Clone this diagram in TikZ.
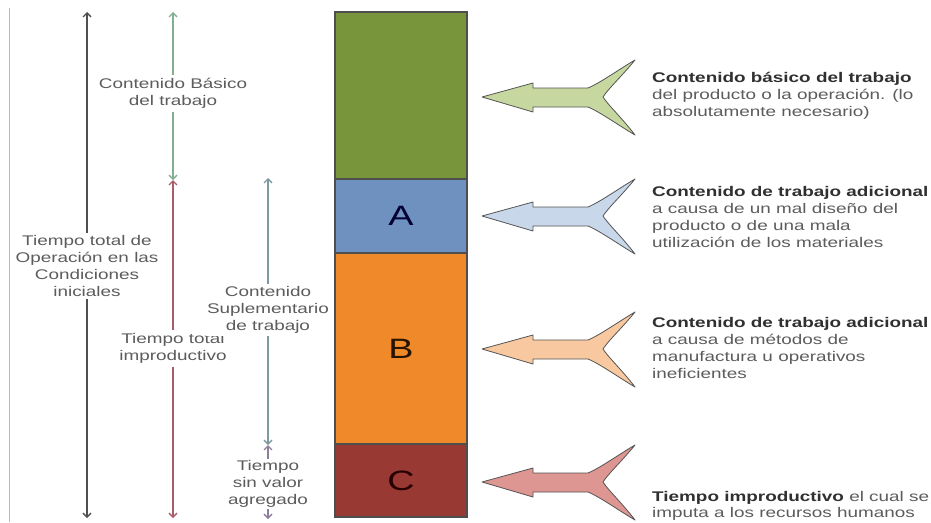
\documentclass[tikz,border=0pt]{standalone}
\usepackage{fontspec}
\setmainfont{Liberation Sans}
\newfontfamily\widesans[FakeStretch=1.35]{Liberation Sans}
\usetikzlibrary{arrows.meta}

\definecolor{gbox}{HTML}{78953C}
\definecolor{abox}{HTML}{6F91C0}
\definecolor{bbox}{HTML}{EF892A}
\definecolor{cbox}{HTML}{983A33}
\definecolor{garrow}{HTML}{C6D8A0}
\definecolor{aarrow}{HTML}{C8D7E9}
\definecolor{barrow}{HTML}{F8C9A0}
\definecolor{carrow}{HTML}{DE9692}
\definecolor{edge}{HTML}{4E4E4E}
\definecolor{outline}{HTML}{555555}
\definecolor{labgray}{HTML}{5C5C5C}
\definecolor{notedark}{HTML}{303030}
\definecolor{tline}{HTML}{505050}
\definecolor{gline}{HTML}{82B08E}
\definecolor{rline}{HTML}{A85E68}
\definecolor{sline}{HTML}{7C9AA0}
\definecolor{vline}{HTML}{8E7E9A}

\tikzset{
  bar/.style={draw=edge, line width=1.3pt, minimum width=132pt, inner sep=0pt,
    font=\widesans\fontsize{28}{28}\selectfont},
  lab/.style={font=\widesans\fontsize{14}{16.7}\selectfont, text=labgray,
    align=center, inner xsep=1pt, inner ysep=3pt, fill=white},
  note/.style={font=\widesans\fontsize{14}{16.7}\selectfont, text=labgray,
    align=left, anchor=west, inner sep=0pt},
  dim/.style={line width=1.3pt, -{Straight Barb[length=4pt,width=8pt]}},
  fork/.pic={
    \draw[pic actions, line width=0.8pt, draw=outline, line join=round]
      (0,0) -- (51,-14) -- (51,-9) -- (106,-9)
      .. controls (118,-14) and (136,-27) .. (153,-37)
      .. controls (140,-21) and (126,-8) .. (121,0)
      .. controls (126,8) and (140,21) .. (153,38)
      .. controls (136,28) and (118,15) .. (106,10)
      -- (51,10) -- (51,15) -- cycle;
  }
}

\begin{document}
\begin{tikzpicture}[x=1pt,y=-1pt]
\useasboundingbox[fill=white] (0,0) rectangle (931,522);

% thin rule along the left edge
\coordinate (rt) at (9,8);
\coordinate (rb) at (9,522);
\draw[gray!55, line width=1pt] (rt) -- (rb);

% stacked column
\node[bar, fill=gbox, minimum height=167pt] (basic) at (401,95.5) {};
\node[bar, fill=abox, minimum height=74pt, text=black!80!blue] (A) at (401,216) {A};
\node[bar, fill=bbox, minimum height=191pt, text=black!85!orange] (B) at (401,348.5) {B};
\node[bar, fill=cbox, minimum height=73pt, text=black!85!red] (C) at (401,480.5) {C};

% split-tail arrows pointing at the column
\pic[fill=garrow] (fg) at (482,97) {fork};
\pic[fill=aarrow] (fa) at (482,216) {fork};
\pic[fill=barrow] (fb) at (482,349) {fork};
\pic[fill=carrow] (fc) at (482,482) {fork};

% descriptions
\node[note] (n1) at (652,96) {{\bfseries\color{notedark}Contenido básico del trabajo}\\
  del producto o la operación. (lo\\absolutamente necesario)};
\node[note] (n2) at (652,217) {{\bfseries\color{notedark}Contenido de trabajo adicional}\\
  a causa de un mal diseño del\\producto o de una mala\\utilización de los materiales};
\node[note] (n3) at (652,348) {{\bfseries\color{notedark}Contenido de trabajo adicional}\\
  a causa de métodos de\\manufactura u operativos\\ineficientes};
\node[note] (n4) at (652,506) {{\bfseries\color{notedark}Tiempo improductivo} el cual se\\
  imputa a los recursos humanos};

% total operation time
\coordinate (tT) at (87,12);
\coordinate (tB) at (87,518);
\node[lab] (tl) at (87,266) {Tiempo total de\\Operación en las\\Condiciones\\iniciales};
\draw[dim, tline] (tl.north) -- (tT);
\draw[dim, tline] (tl.south) -- (tB);

% basic work content
\coordinate (gT) at (173,12);
\coordinate (gB) at (173,180);
\node[lab] (gl) at (173,93.5) {Contenido Básico\\del trabajo};
\draw[dim, gline] (gl.north) -- (gT);
\draw[dim, gline] (gl.south) -- (gB);

% total unproductive time
\coordinate (rT) at (173,180);
\coordinate (rB) at (173,518);
\node[lab] (rl) at (173,348.5) {Tiempo total\\improductivo};
\draw[dim, rline] (rl.north) -- (rT);
\draw[dim, rline] (rl.south) -- (rB);

% supplementary work content
\coordinate (sT) at (268,178);
\coordinate (sB) at (268,445);
\node[lab] (sl) at (268,310) {Contenido\\Suplementario\\de trabajo};
\draw[dim, sline] (sl.north) -- (sT);
\draw[dim, sline] (sl.south) -- (sB);

% time without added value
\coordinate (vT) at (268,445);
\coordinate (vB) at (268,519);
\node[lab, inner ysep=2pt] (vl) at (268,484) {Tiempo\\sin valor\\agregado};
\draw[dim, vline] (vl.north) -- (vT);
\draw[dim, vline] (vl.south) -- (vB);
\end{tikzpicture}
\end{document}
